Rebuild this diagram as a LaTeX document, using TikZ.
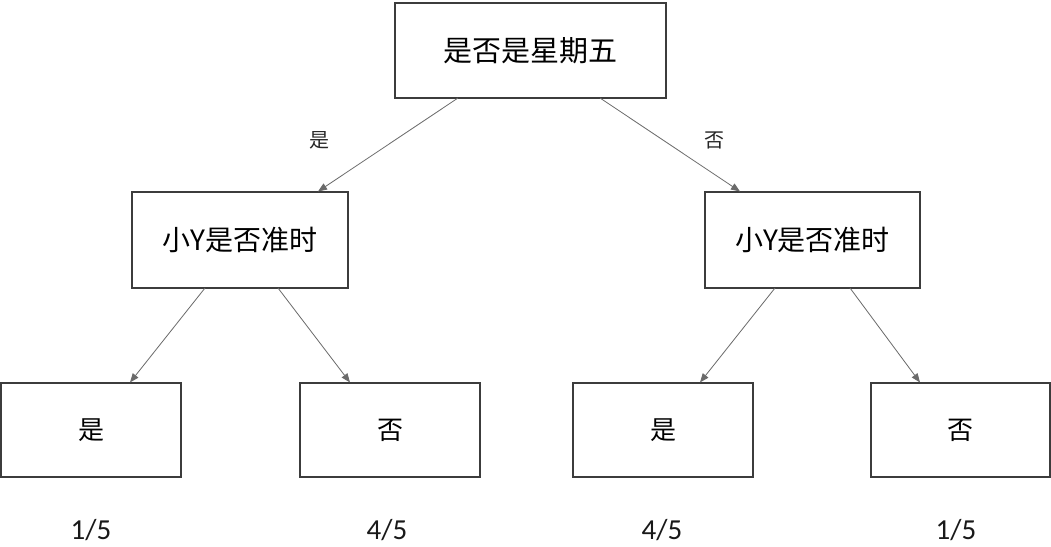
\documentclass[tikz,border=0pt]{standalone}
\usepackage{fontspec}
\newfontfamily\cjk{Noto Sans CJK SC}
\newfontfamily\numfont{Carlito}
\usetikzlibrary{arrows.meta}
\definecolor{boxline}{HTML}{3C3C3C}
\definecolor{edgeline}{HTML}{6A6A6A}
\begin{document}
\begin{tikzpicture}[x=1pt,y=-1pt,
  tbox/.style={draw=boxline,line width=1.1pt,fill=white,inner sep=0pt},
  edge/.style={draw=edgeline,line width=0.8pt,-{Triangle[length=9pt,width=7pt]}},
  lbl/.style={font=\cjk\fontsize{20}{24}\selectfont,text=black!85},
  frac/.style={font=\numfont\fontsize{29}{34}\selectfont,text=black!90}]
\useasboundingbox[fill=white] (0,0) rectangle (1051,546);
% boxes
\node[tbox,minimum width=271pt,minimum height=95pt,font=\cjk\fontsize{29}{34}\selectfont] (root) at (530.5,50.5) {是否是星期五};
\node[tbox,minimum width=216pt,minimum height=96pt,font=\cjk\fontsize{28}{33}\selectfont] (L) at (240,240) {小Y是否准时};
\node[tbox,minimum width=215pt,minimum height=96pt,font=\cjk\fontsize{28}{33}\selectfont] (R) at (812.5,240) {小Y是否准时};
\node[tbox,minimum width=180pt,minimum height=94pt,font=\cjk\fontsize{26}{31}\selectfont] (LL) at (91,430) {是};
\node[tbox,minimum width=180pt,minimum height=94pt,font=\cjk\fontsize{26}{31}\selectfont] (LR) at (390,430) {否};
\node[tbox,minimum width=180pt,minimum height=94pt,font=\cjk\fontsize{26}{31}\selectfont] (RL) at (663,430) {是};
\node[tbox,minimum width=179pt,minimum height=94pt,font=\cjk\fontsize{26}{31}\selectfont] (RR) at (960.5,430) {否};
% edge anchors
\coordinate (r1) at (458,98);
\coordinate (r2) at (600,98);
\coordinate (l1) at (205,288);
\coordinate (l2) at (278,288);
\coordinate (q1) at (775,288);
\coordinate (q2) at (850,288);
\draw[edge] (r1) -- (L.north east -| 318,192);
\draw[edge] (r2) -- (R.north west -| 740,192);
\draw[edge] (l1) -- (LL.north -| 130,383);
\draw[edge] (l2) -- (LR.north -| 350,383);
\draw[edge] (q1) -- (RL.north -| 700,383);
\draw[edge] (q2) -- (RR.north -| 920,383);
% labels
\node[lbl] (yes) at (319,140) {是};
\node[lbl] (no) at (714,140) {否};
\node[frac] (f1) at (91,530) {1/5};
\node[frac] (f2) at (387,530) {4/5};
\node[frac] (f3) at (662,530) {4/5};
\node[frac] (f4) at (956,530) {1/5};
\end{tikzpicture}
\end{document}
